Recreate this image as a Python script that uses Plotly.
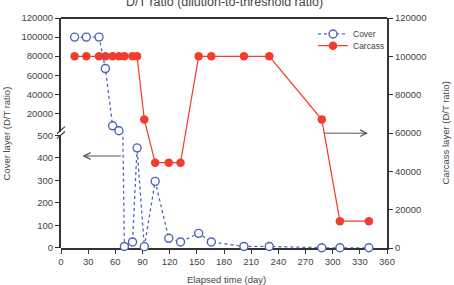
import plotly.graph_objects as go

# ---------------- data ----------------
days = [15, 28, 42, 49, 57, 64, 70, 79, 84, 92, 104, 119, 132, 152, 166, 202, 230, 288, 308, 340]
cover = [100000, 100000, 100000, 67000, 7000, 1800, 7, 27, 445, 6, 296, 43, 27, 65, 27, 7, 7, 1, 1, 1]
carcass = [100000, 100000, 100000, 100000, 100000, 100000, 100000, 100000, 100000, 67000,
           44500, 44500, 44500, 100000, 100000, 100000, 100000, 67000, 14000, 14000]
x_ticks = [0, 30, 60, 90, 120, 150, 180, 210, 240, 270, 300, 330, 360]
lower_ticks = [0, 100, 200, 300, 400, 500]
upper_ticks = [20000, 40000, 60000, 80000, 100000, 120000]
right_ticks = [0, 20000, 40000, 60000, 80000, 100000, 120000]
LOWER_MAX = 500

# ---------------- layout geometry ----------------
W, H = 454, 285
L, R, T, B = 61, 67, 13, 37
PW, PH = W - L - R, H - T - B


def fx(px):
    return (px - L) / PW


def fy(py):
    return (H - B - py) / PH


BLUE = "#4f64b6"
RED = "#f23c2c"
AX = "#333333"
TXT = "#444444"
FONT = "Liberation Sans, Arial, sans-serif"

# split cover series for the broken left axis
first_low = next(i for i, v in enumerate(cover) if v <= LOWER_MAX)
up_d, up_v = days[:first_low], cover[:first_low]
lo_d, lo_v = days[first_low - 1:], cover[first_low - 1:]

cover_line = dict(color=BLUE, width=1.3, dash="dot")
cover_marker = dict(symbol="circle", size=8, color="white", line=dict(color=BLUE, width=1.4))

fig = go.Figure()
fig.add_trace(go.Scatter(x=days, y=carcass, xaxis="x", yaxis="y", mode="lines+markers",
                         name="Carcass", legend="legend2",
                         line=dict(color=RED, width=1.2),
                         marker=dict(symbol="circle", size=8.5, color=RED),
                         cliponaxis=False))
fig.add_trace(go.Scatter(x=lo_d, y=lo_v, xaxis="x", yaxis="y2", mode="lines+markers",
                         name="Cover", showlegend=False,
                         line=cover_line, marker=cover_marker, cliponaxis=False))
fig.add_trace(go.Scatter(x=up_d, y=up_v, xaxis="x", yaxis="y3", mode="lines+markers",
                         name="Cover", legend="legend",
                         line=cover_line, marker=cover_marker, cliponaxis=False))

axcommon = dict(showline=True, linewidth=2, linecolor=AX, ticks="outside", ticklen=4,
                tickwidth=1, tickcolor=AX, showgrid=False, zeroline=False,
                tickfont=dict(size=9.5, color=TXT, family=FONT), layer="below traces")

fig.update_layout(
    width=W, height=H,
    margin=dict(l=L, r=R, t=T, b=B, pad=0),
    paper_bgcolor="white", plot_bgcolor="rgba(0,0,0,0)",
    font=dict(family=FONT, size=9.5, color=TXT),
    xaxis=dict(domain=[0, 1], range=[0, 360], tickvals=x_ticks, anchor="y", **axcommon),
    yaxis=dict(domain=[0, 1], range=[0, 120000], tickvals=right_ticks, tickformat="d",
               side="right", anchor="x", **axcommon),
    yaxis2=dict(domain=[0, fy(133)], range=[0, 500], tickvals=lower_ticks, tickformat="d",
                side="left", anchor="x", **axcommon),
    yaxis3=dict(domain=[fy(129), 1], range=[1000, 120000], tickvals=upper_ticks, tickformat="d",
                side="left", anchor="x", **axcommon),
    legend=dict(x=fx(313), y=fy(29.3), xanchor="left", yanchor="middle",
                bgcolor="rgba(0,0,0,0)", font=dict(size=8.5, color=TXT, family=FONT),
                itemwidth=30, borderwidth=0),
    legend2=dict(x=fx(313), y=fy(41.3), xanchor="left", yanchor="middle",
                 bgcolor="rgba(0,0,0,0)", font=dict(size=8.5, color=TXT, family=FONT),
                 itemwidth=30, borderwidth=0),
    showlegend=True,
)

# frame top line and axis break marks
fig.add_shape(type="line", xref="paper", yref="paper", x0=0, x1=1, y0=1, y1=1,
              line=dict(color=AX, width=2))
for y0, y1 in [(131, 124), (136, 129)]:
    fig.add_shape(type="line", xref="paper", yref="paper",
                  x0=fx(57), x1=fx(65), y0=fy(y0), y1=fy(y1),
                  line=dict(color=AX, width=1.2))

# titles and arrows
fig.add_annotation(text="D/T ratio (dilution-to-threshold ratio)", xref="paper", yref="paper",
                   x=fx(224), y=fy(-3.5), xanchor="center", yanchor="middle", showarrow=False,
                   font=dict(size=12.5, color=TXT, family=FONT))
fig.add_annotation(text="Elapsed time (day)", xref="paper", yref="paper",
                   x=fx(227), y=fy(280), xanchor="center", yanchor="middle", showarrow=False,
                   font=dict(size=9.5, color=TXT, family=FONT))
fig.add_annotation(text="Cover layer (D/T ratio)", xref="paper", yref="paper",
                   x=fx(6), y=fy(131), xanchor="center", yanchor="middle", showarrow=False,
                   textangle=-90, font=dict(size=9.5, color=TXT, family=FONT))
fig.add_annotation(text="Carcass layer (D/T ratio)", xref="paper", yref="paper",
                   x=fx(445), y=fy(131), xanchor="center", yanchor="middle", showarrow=False,
                   textangle=-90, font=dict(size=9.5, color=TXT, family=FONT))
fig.add_annotation(text="", xref="paper", yref="paper", x=fx(82.5), y=fy(154),
                   ax=40, ay=0, showarrow=True, arrowhead=5, arrowsize=1.3,
                   arrowwidth=1, arrowcolor="#555555", standoff=0)
fig.add_annotation(text="", xref="paper", yref="paper", x=fx(368), y=fy(130.7),
                   ax=-45, ay=0, showarrow=True, arrowhead=5, arrowsize=1.3,
                   arrowwidth=1, arrowcolor="#555555", standoff=0)

fig.write_html("out.html")
